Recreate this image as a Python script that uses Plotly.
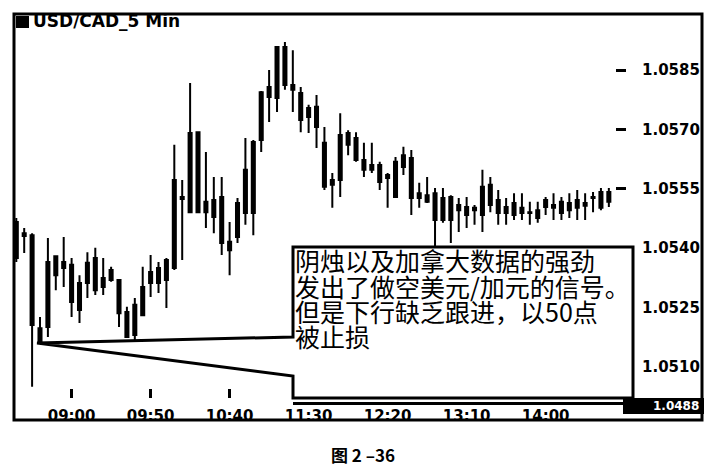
import plotly.graph_objects as go

# ---------------- data ----------------
times = ["08:25", "08:30", "08:35", "08:40", "08:45", "08:50", "08:55",
         "09:00", "09:05", "09:10", "09:15", "09:20", "09:25", "09:30", "09:35", "09:40", "09:45", "09:50", "09:55",
         "10:00", "10:05", "10:10", "10:15", "10:20", "10:25", "10:30", "10:35", "10:40", "10:45", "10:50", "10:55",
         "11:00", "11:05", "11:10", "11:15", "11:20", "11:25", "11:30", "11:35", "11:40", "11:45", "11:50", "11:55",
         "12:00", "12:05", "12:10", "12:15", "12:20", "12:25", "12:30", "12:35", "12:40", "12:45", "12:50", "12:55",
         "13:00", "13:05", "13:10", "13:15", "13:20", "13:25", "13:30", "13:35", "13:40", "13:45", "13:50", "13:55",
         "14:00", "14:05", "14:10", "14:15", "14:20", "14:25", "14:30", "14:35", "14:40"]

opens = [1.05466, 1.05438, 1.05433, 1.05163, 1.05201, 1.05380, 1.05350, 1.05358, 1.05312, 1.05312,
         1.05294, 1.05325, 1.05345, 1.05320, 1.05239, 1.05181, 1.05231, 1.05312, 1.05350, 1.05320,
         1.05350, 1.05529, 1.05491, 1.05693, 1.05517, 1.05479, 1.05529, 1.05416, 1.05428, 1.05489,
         1.05489, 1.05673, 1.05782, 1.05779, 1.05908, 1.05812, 1.05792, 1.05731, 1.05757, 1.05666,
         1.05572, 1.05572, 1.05691, 1.05678, 1.05623, 1.05598, 1.05610, 1.05585, 1.05529, 1.05635,
         1.05628, 1.05539, 1.05534, 1.05539, 1.05471, 1.05529, 1.05496, 1.05504, 1.05496, 1.05484,
         1.05560, 1.05522, 1.05489, 1.05514, 1.05489, 1.05491, 1.05496, 1.05504, 1.05509, 1.05489,
         1.05514, 1.05502, 1.05514, 1.05527, 1.05502, 1.05517]

highs = [1.05476, 1.05451, 1.05438, 1.05226, 1.05426, 1.05382, 1.05428, 1.05375, 1.05332, 1.05390,
         1.05401, 1.05375, 1.05353, 1.05322, 1.05252, 1.05274, 1.05353, 1.05383, 1.05365, 1.05375,
         1.05661, 1.05572, 1.05817, 1.05695, 1.05643, 1.05580, 1.05580, 1.05466, 1.05527, 1.05678,
         1.05673, 1.05797, 1.05850, 1.05910, 1.05921, 1.05900, 1.05807, 1.05762, 1.05787, 1.05706,
         1.05590, 1.05741, 1.05698, 1.05693, 1.05666, 1.05666, 1.05618, 1.05590, 1.05630, 1.05656,
         1.05648, 1.05565, 1.05580, 1.05552, 1.05552, 1.05534, 1.05527, 1.05529, 1.05509, 1.05598,
         1.05580, 1.05547, 1.05527, 1.05539, 1.05539, 1.05517, 1.05517, 1.05529, 1.05539, 1.05529,
         1.05539, 1.05547, 1.05539, 1.05542, 1.05552, 1.05552]

lows = [1.05365, 1.05388, 1.05050, 1.05161, 1.05176, 1.05294, 1.05302, 1.05226, 1.05211, 1.05274,
        1.05282, 1.05282, 1.05315, 1.05201, 1.05173, 1.05168, 1.05229, 1.05277, 1.05287, 1.05249,
        1.05345, 1.05370, 1.05489, 1.05489, 1.05451, 1.05438, 1.05383, 1.05332, 1.05413, 1.05459,
        1.05433, 1.05643, 1.05719, 1.05744, 1.05800, 1.05744, 1.05693, 1.05691, 1.05653, 1.05547,
        1.05502, 1.05529, 1.05635, 1.05618, 1.05580, 1.05590, 1.05547, 1.05502, 1.05527, 1.05585,
        1.05484, 1.05502, 1.05514, 1.05395, 1.05464, 1.05413, 1.05441, 1.05451, 1.05459, 1.05441,
        1.05491, 1.05459, 1.05459, 1.05471, 1.05471, 1.05459, 1.05464, 1.05484, 1.05471, 1.05471,
        1.05476, 1.05471, 1.05471, 1.05491, 1.05496, 1.05504]

closes = [1.05375, 1.05431, 1.05206, 1.05198, 1.05365, 1.05332, 1.05365, 1.05264, 1.05244, 1.05363,
          1.05375, 1.05302, 1.05320, 1.05236, 1.05176, 1.05257, 1.05302, 1.05340, 1.05312, 1.05370,
          1.05572, 1.05524, 1.05691, 1.05491, 1.05491, 1.05522, 1.05413, 1.05395, 1.05514, 1.05598,
          1.05668, 1.05794, 1.05807, 1.05908, 1.05812, 1.05800, 1.05724, 1.05754, 1.05706, 1.05555,
          1.05560, 1.05686, 1.05661, 1.05623, 1.05598, 1.05610, 1.05567, 1.05577, 1.05618, 1.05605,
          1.05527, 1.05527, 1.05517, 1.05471, 1.05527, 1.05471, 1.05509, 1.05484, 1.05502, 1.05555,
          1.05509, 1.05489, 1.05504, 1.05484, 1.05502, 1.05489, 1.05476, 1.05522, 1.05502, 1.05517,
          1.05496, 1.05522, 1.05507, 1.05529, 1.05542, 1.05542]

x_tick_labels = ["09:00", "09:50", "10:40", "11:30", "12:20", "13:10", "14:00"]
y_tick_values = [1.0510, 1.0525, 1.0540, 1.0555, 1.0570, 1.0585]
y_tick_labels = ["1.0510", "1.0525", "1.0540", "1.0555", "1.0570", "1.0585"]
chart_title = "USD/CAD_5 Min"
note_lines = ["阴烛以及加拿大数据的强劲",
              "发出了做空美元/加元的信号。",
              "但是下行缺乏跟进，以50点",
              "被止损"]
last_price_label = "1.0488"
caption = "图 2 –36"

# ---------------- layout helpers ----------------
# the page body has an 8px margin, so the figure is drawn 8px in from the
# window's top-left corner; positions below are given in window pixels.
OFF = 8
W, H = 725 - OFF, 468 - OFF


def px(x):
    return (x - OFF) / W


def py(y):
    return 1 - (y - OFF) / H


fig = go.Figure(go.Candlestick(
    x=times, open=opens, high=highs, low=lows, close=closes,
    increasing=dict(line=dict(color="black", width=2), fillcolor="black"),
    decreasing=dict(line=dict(color="black", width=2), fillcolor="black"),
    whiskerwidth=0, hoverinfo="skip", showlegend=False,
))

tick_font = dict(family="DejaVu Sans", size=15, color="black", weight="bold")

fig.update_layout(
    width=W, height=H,
    margin=dict(l=0, r=0, t=0, b=0, autoexpand=False),
    paper_bgcolor="white", plot_bgcolor="white",
    boxgap=0.45, showlegend=False,
)

fig.update_xaxes(
    type="category", domain=[px(14), px(615)], range=[-0.291, 75.78],
    rangeslider_visible=False, showgrid=False, zeroline=False, showline=False,
    ticks="outside", ticklen=9, tickwidth=2.5, tickcolor="black",
    tickmode="array", tickvals=x_tick_labels, ticktext=x_tick_labels,
    tickfont=tick_font, ticklabelstandoff=5,
)
fig.update_yaxes(
    side="right", domain=[py(388), py(14)], range=[1.050470, 1.059914],
    showgrid=False, zeroline=False, showline=False,
    ticks="outside", ticklen=10, tickwidth=3, tickcolor="black",
    tickmode="array", tickvals=y_tick_values, ticktext=y_tick_labels,
    tickfont=tick_font, ticklabelstandoff=13,
)


def pth(points):
    return "M " + " L ".join(f"{px(x):.5f},{py(y):.5f}" for x, y in points) + " Z"


shapes = []
# callout box with wedge pointing at the low
shapes.append(dict(type="path", xref="paper", yref="paper", layer="above",
                   path=pth([(293, 247), (293, 337), (37, 343), (293, 376), (293, 398),
                             (633, 398), (633, 247)]),
                   fillcolor="white", line=dict(color="black", width=3)))
# price line along the bottom
shapes.append(dict(type="line", xref="paper", yref="paper", layer="above",
                   x0=px(293), x1=px(624), y0=py(403.5), y1=py(403.5),
                   line=dict(color="black", width=3)))
# last-price black tag
shapes.append(dict(type="rect", xref="paper", yref="paper", layer="above",
                   x0=px(623), x1=px(704), y0=py(414), y1=py(398),
                   fillcolor="black", line=dict(width=0)))
# title square
shapes.append(dict(type="rect", xref="paper", yref="paper", layer="above",
                   x0=px(16), x1=px(29), y0=py(28), y1=py(16),
                   fillcolor="black", line=dict(width=0)))
# outer frame
shapes.append(dict(type="rect", xref="paper", yref="paper", layer="above",
                   x0=px(14), x1=px(702), y0=py(420), y1=py(14),
                   fillcolor="rgba(0,0,0,0)", line=dict(color="black", width=3)))
fig.update_layout(shapes=shapes)

annotations = []
annotations.append(dict(text=chart_title, xref="paper", yref="paper", x=px(31), y=py(21.5),
                        xanchor="left", yanchor="middle", showarrow=False,
                        font=dict(family="DejaVu Sans", size=17, color="black", weight="bold")))
for line, yc in zip(note_lines, [260, 286, 311, 336]):
    annotations.append(dict(text=line, xref="paper", yref="paper", x=px(293), y=py(yc),
                            xanchor="left", yanchor="middle", showarrow=False,
                            font=dict(family="Noto Sans CJK SC", size=25, color="black")))
annotations.append(dict(text=last_price_label, xref="paper", yref="paper", x=px(701), y=py(406),
                        xanchor="right", yanchor="middle", showarrow=False,
                        font=dict(family="DejaVu Sans", size=12, color="white", weight="bold")))
annotations.append(dict(text=caption, xref="paper", yref="paper", x=px(363), y=py(454),
                        xanchor="center", yanchor="middle", showarrow=False,
                        font=dict(family="Noto Sans CJK SC", size=17, color="black", weight="bold")))
fig.update_layout(annotations=annotations)

fig.write_html("out.html")
